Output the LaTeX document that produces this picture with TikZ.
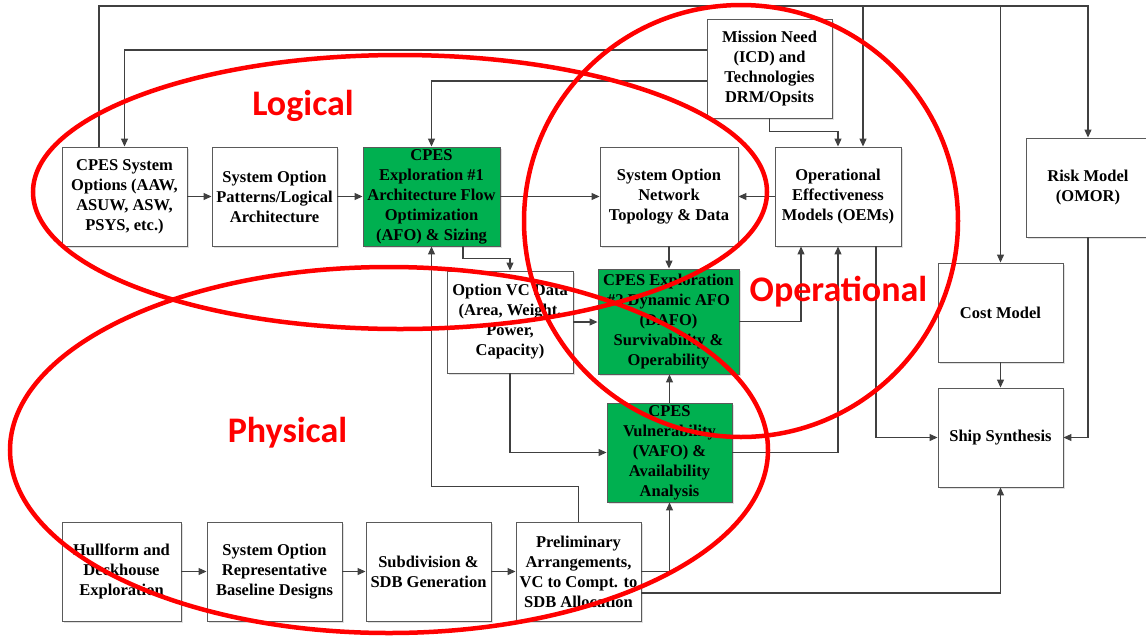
\documentclass[tikz,border=0pt]{standalone}
\usepackage{fontspec}
\setmainfont{Liberation Serif}
\newfontfamily\labelfont{Carlito}
\usetikzlibrary{arrows.meta,shadows}

\definecolor{boxgreen}{HTML}{00B050}
\definecolor{linegray}{HTML}{404040}
\definecolor{edgegray}{HTML}{5A5A5A}

\begin{document}
\begin{tikzpicture}[x=1pt,y=-1pt,
  blk/.style={draw=edgegray, line width=0.9pt, fill=white, align=center,
    inner sep=0pt, font=\bfseries\fontsize{16.5}{20}\selectfont,
    drop shadow={shadow xshift=1.5pt, shadow yshift=-1.5pt, fill=black, opacity=0.12}},
  grn/.style={blk, fill=boxgreen},
  wire/.style={draw=linegray, line width=1.1pt},
  conn/.style={wire, -{Triangle[length=8pt,width=7pt]}},
  ring/.style={draw=red, line width=4.5pt},
  tag/.style={text=red, anchor=base, inner sep=0pt,
    font=\labelfont\bfseries\fontsize{36}{40}\selectfont}
]
\useasboundingbox (0,0) rectangle (1146,638);
\clip (0,0) rectangle (1146,638);

% ---- blocks ----
\node[blk, minimum width=125pt, minimum height=99pt] (A) at (124.5,196.5)
  {CPES System\\Options (AAW,\\ASUW, ASW,\\PSYS, etc.)};
\node[blk, minimum width=125pt, minimum height=99pt] (B) at (274.5,196.5)
  {System Option\\Patterns/Logical\\Architecture};
\node[grn, minimum width=137pt, minimum height=99pt] (C) at (431.5,196.5)
  {CPES\\Exploration \#1\\Architecture Flow\\Optimization\\(AFO) \& Sizing};
\node[blk, minimum width=138pt, minimum height=99pt] (D) at (669,196.5)
  {System Option\\Network\\Topology \& Data};
\node[blk, minimum width=126pt, minimum height=99pt] (E) at (838,196.5)
  {Operational\\Effectiveness\\Models (OEMs)};
\node[blk, minimum width=125pt, minimum height=99pt] (F) at (769.5,68.5)
  {Mission Need\\(ICD) and\\Technologies\\DRM/Opsits};
\node[blk, minimum width=124pt, minimum height=99pt] (G) at (1088,187.5)
  {Risk Model\\(OMOR)};
\node[blk, minimum width=125pt, minimum height=99pt] (H) at (1000.5,312.5)
  {Cost Model};
\node[blk, minimum width=125pt, minimum height=99pt] (I) at (1000.5,437.5)
  {Ship Synthesis};
\node[blk, minimum width=126pt, minimum height=102pt] (J) at (510,322)
  {Option VC Data\\(Area, Weight,\\Power,\\Capacity)};
\node[grn, minimum width=141pt, minimum height=105pt] (K) at (668.5,321.5)
  {CPES Exploration\\\#2 Dynamic AFO\\(DAFO)\\Survivability \&\\Operability};
\node[grn, minimum width=125pt, minimum height=99pt] (L) at (669.5,452.5)
  {CPES\\Vulnerability\\(VAFO) \&\\Availability\\Analysis};
\node[blk, minimum width=119pt, minimum height=99pt] (M) at (121.5,571.5)
  {Hullform and\\Deckhouse\\Exploration};
\node[blk, minimum width=135pt, minimum height=99pt] (N) at (274.5,571.5)
  {System Option\\Representative\\Baseline Designs};
\node[blk, minimum width=125pt, minimum height=99pt] (O) at (428.5,571.5)
  {Subdivision \&\\SDB Generation};
\node[blk, minimum width=125pt, minimum height=99pt] (P) at (578.5,571.5)
  {Preliminary\\Arrangements,\\VC to Compt. to\\SDB Allocation};

% ---- junction helpers ----
\coordinate (ytop) at (0,6);
\coordinate (aOut) at ([xshift=-25.5pt]A.north);
\coordinate (eTop) at ([xshift=25pt]E.north);
\coordinate (eK) at ([xshift=-37pt]E.south);
\coordinate (eOut) at ([xshift=38pt]E.south);
\coordinate (cOut) at ([xshift=31.5pt]C.south);
\coordinate (fA) at ([yshift=18.5pt]F.west);
\coordinate (fC) at ([yshift=-12.5pt]F.west);
\coordinate (pLow) at ([yshift=-21.5pt]P.east);

% ---- connectors ----
\draw[conn] (aOut) |- (ytop -| G.north) -- (G.north);
\draw[conn] (ytop -| eTop) -- (eTop);
\draw[conn] (ytop -| H.north) -- (H.north);
\draw[conn] (fA) -| (A.north);
\draw[conn] (fC) -| (C.north);
\draw[conn] (F.south) -- ++(0,13) -| (E.north);

\draw[conn] (A) -- (B);
\draw[conn] (B) -- (C);
\draw[conn] (C) -- (D);
\draw[conn] (E) -- (D);

\draw[conn] (cOut) -- ++(0,12) -| (J.north);
\draw[conn] (P.north) -- ++(0,-35) -| (C.south);
\draw[conn] (D.south) -- (D.south |- K.north);
\draw[conn] (J.east) -- (J.east -| K.west);
\draw[conn] (K.east) -| (eK);
\draw[conn] (L.north) -- (L.north |- K.south);
\draw[conn] (J.south) |- (L.west);
\draw[conn] (L.east) -| (E.south);
\draw[conn] (eOut) |- (I.west);
\draw[conn] (H.south) -- (I.north);
\draw[conn] (G.south) |- (I.east);
\draw[conn] (P.east) -| (L.south);
\draw[conn] (pLow) -| (I.south);

\draw[conn] (M) -- (N);
\draw[conn] (N) -- (O);
\draw[conn] (O) -- (P);

% ---- domain outlines ----
\draw[ring] (400,192) ellipse [x radius=367, y radius=137];
\draw[ring] (389,450) ellipse [x radius=379, y radius=183];
\draw[ring] (741,221) ellipse [x radius=217, y radius=216];

\node[tag] (tLog) at (303,115) {Logical};
\node[tag] (tPhy) at (287.5,442) {Physical};
\node[tag] (tOp) at (838.5,301.5) {Operational};
\end{tikzpicture}
\end{document}
